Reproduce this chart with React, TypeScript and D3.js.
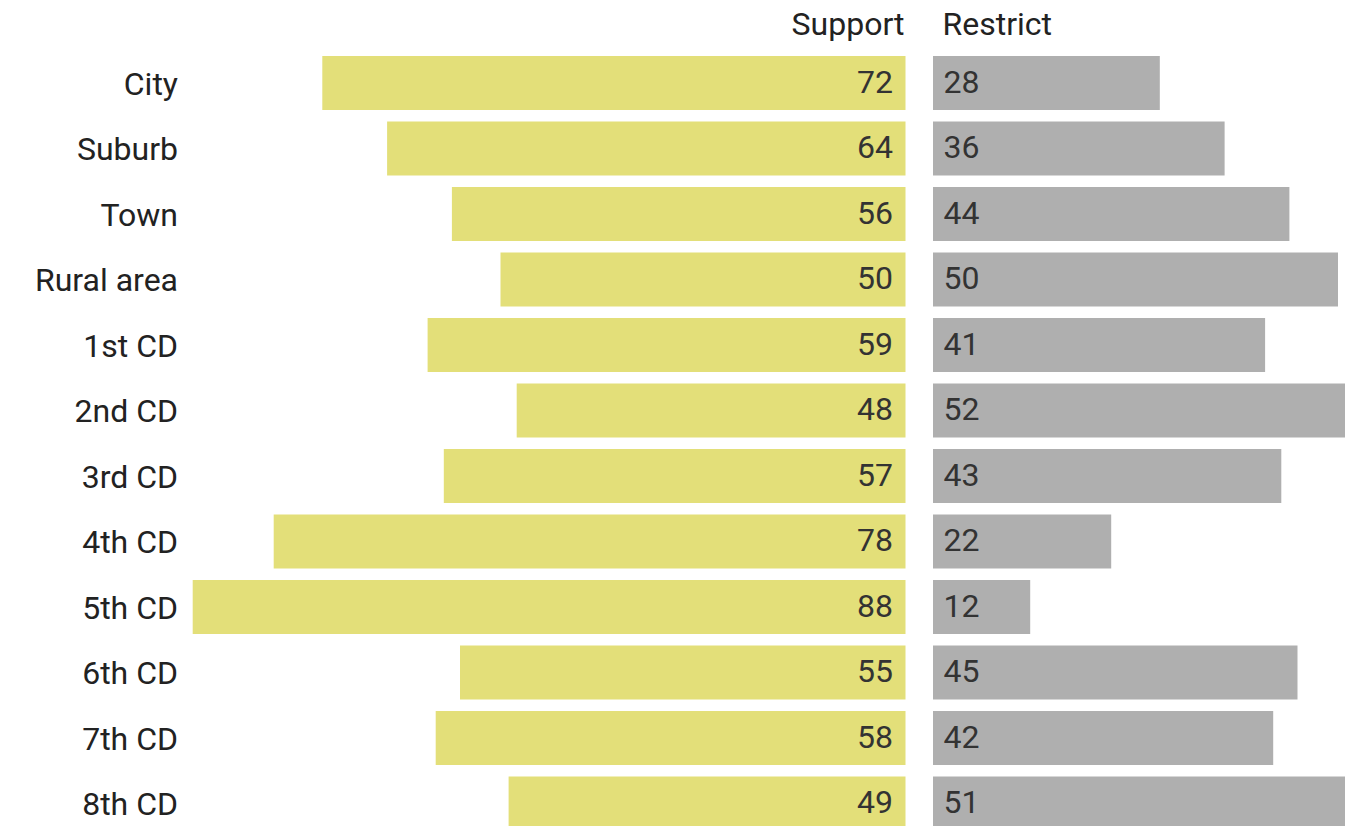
import React from "react";
import * as d3 from "d3";

const categories = ["City", "Suburb", "Town", "Rural area", "1st CD", "2nd CD", "3rd CD", "4th CD", "5th CD", "6th CD", "7th CD", "8th CD"];
const supportValues = [72, 64, 56, 50, 59, 48, 57, 78, 88, 55, 58, 49];
const restrictValues = [28, 36, 44, 50, 41, 52, 43, 22, 12, 45, 42, 51];
const headers = ["Support", "Restrict"];

const W = 1345;
const H = 826;
const centerLeft = 905.5;
const centerRight = 933;
const FONT = "Roboto, 'Noto Sans', sans-serif";

export default function App() {
  const x = d3.scaleLinear().domain([0, 100]).range([0, 810]);
  const y = d3
    .scaleBand<string>()
    .domain(categories)
    .range([56 - 5.75, 56 - 5.75 + 65.5 * 12])
    .paddingInner(0.1756)
    .paddingOuter(0.0878);
  const bw = y.bandwidth();

  return (
    <svg
      width={W}
      height={H}
      style={{ position: "absolute", left: 0, top: 0, display: "block", background: "#fff" }}
      fontFamily={FONT}
    >
      <text x={centerLeft - 1} y={35} textAnchor="end" fontSize={32} fill="#222">
        {headers[0]}
      </text>
      <text x={centerRight + 9.5} y={35} textAnchor="start" fontSize={32} fill="#222">
        {headers[1]}
      </text>
      {categories.map((c, i) => {
        const yy = y(c)!;
        const cy = yy + bw / 2;
        return (
          <g key={c}>
            <text x={178} y={cy + 11.5} textAnchor="end" fontSize={32} fill="#222">
              {c}
            </text>
            <rect x={centerLeft - x(supportValues[i])} y={yy} width={x(supportValues[i])} height={bw} fill="#e3df79" />
            <rect x={centerRight} y={yy} width={x(restrictValues[i])} height={bw} fill="#afafaf" />
            <text x={centerLeft - 12.5} y={cy + 9.5} textAnchor="end" fontSize={32} fill="#333">
              {supportValues[i]}
            </text>
            <text x={centerRight + 10.5} y={cy + 9.5} textAnchor="start" fontSize={32} fill="#333">
              {restrictValues[i]}
            </text>
          </g>
        );
      })}
    </svg>
  );
}
